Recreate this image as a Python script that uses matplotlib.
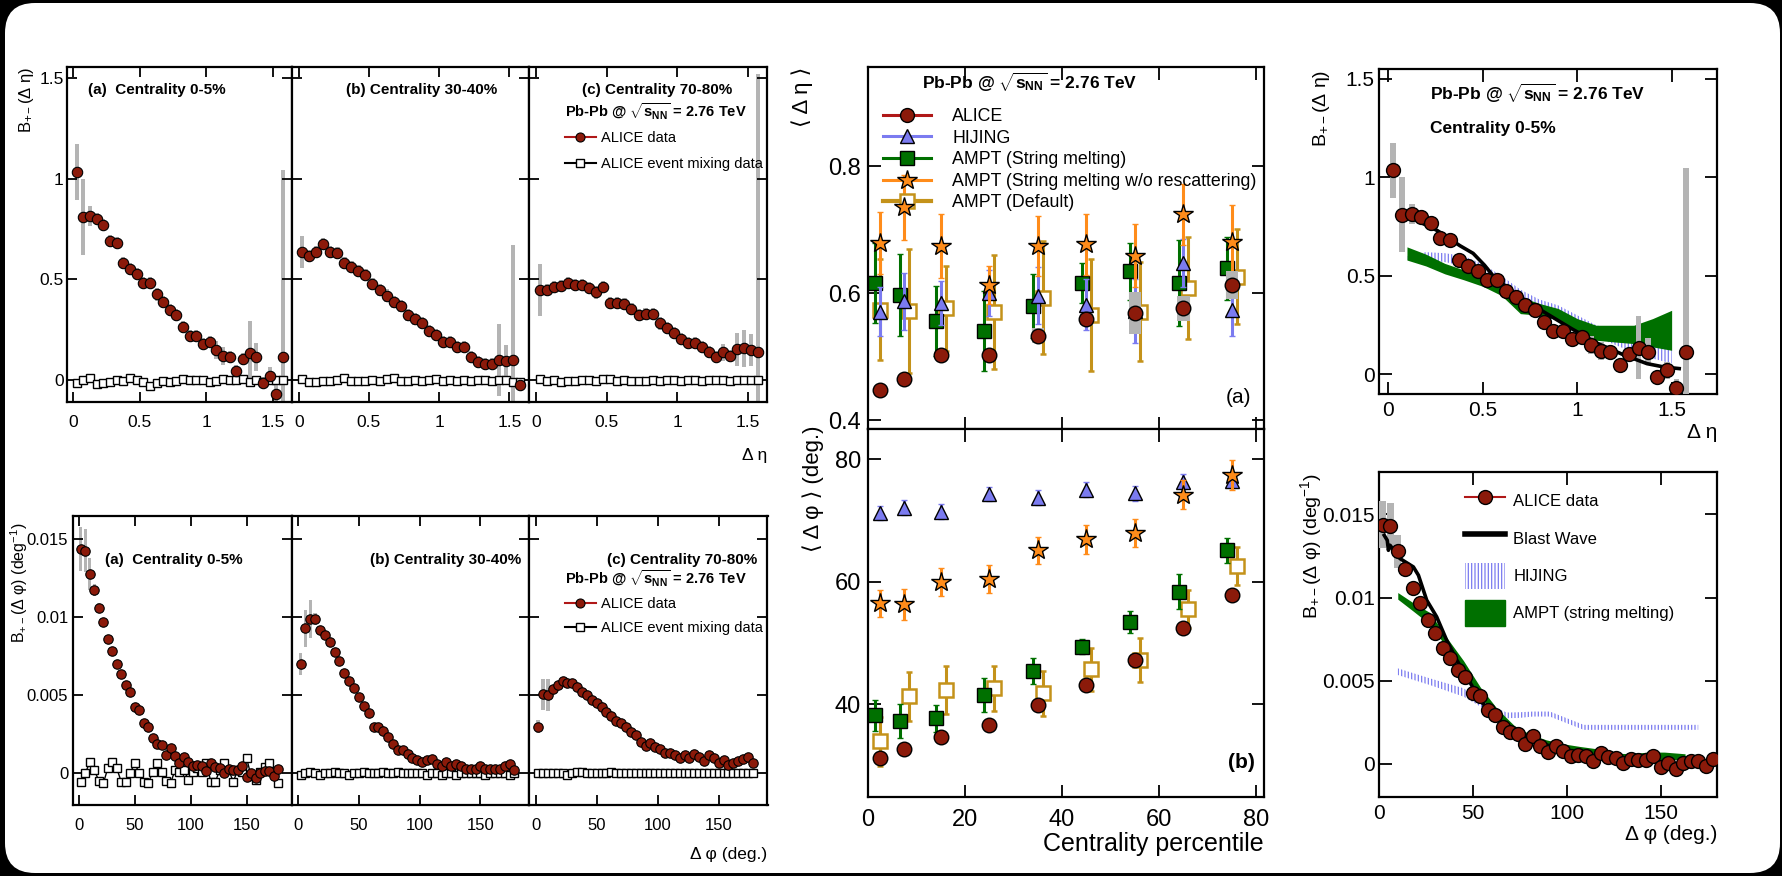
import numpy as np
import matplotlib
matplotlib.use('Agg')
import matplotlib.pyplot as plt
from matplotlib.patches import FancyBboxPatch, Patch
from matplotlib.lines import Line2D
from matplotlib.transforms import IdentityTransform

plt.rcParams['font.family'] = ['Liberation Sans', 'DejaVu Sans']
plt.rcParams['mathtext.fontset'] = 'custom'
plt.rcParams['mathtext.rm'] = 'Liberation Sans'
plt.rcParams['mathtext.it'] = 'Liberation Sans:italic'
plt.rcParams['mathtext.bf'] = 'Liberation Sans:bold'
plt.rcParams['hatch.linewidth'] = 0.9

# ---- balance function vs delta eta (bin centres) ----
deta = [0.025, 0.075, 0.125, 0.175, 0.225, 0.275, 0.325, 0.375, 0.425, 0.475, 0.525, 0.575,
        0.625, 0.675, 0.725, 0.775, 0.825, 0.875, 0.925, 0.975, 1.025, 1.075, 1.125, 1.175,
        1.225, 1.275, 1.325, 1.375, 1.425, 1.475, 1.525, 1.575]
b_eta_0_5 = [1.035, 0.81, 0.815, 0.80, 0.77, 0.69, 0.68, 0.58, 0.55, 0.525, 0.48, 0.48,
             0.425, 0.39, 0.35, 0.325, 0.265, 0.22, 0.22, 0.18, 0.19, 0.15, 0.12, 0.115,
             0.045, 0.105, 0.135, 0.115, -0.015, 0.02, -0.07, 0.115]
sys_eta_0_5 = [0.14, 0.19, 0.05, 0.03, 0.03, 0.03, 0.03, 0.03, 0.03, 0.03, 0.03, 0.03,
               0.03, 0.03, 0.03, 0.03, 0.03, 0.03, 0.03, 0.03, 0.03, 0.045, 0.045, 0.03,
               0.03, 0.03, 0.16, 0.07, 0.03, 0.045, 0.045, 0.93]
mix_eta_0_5 = [-0.013, 0.0, 0.008, -0.02, -0.017, -0.008, 0.0, -0.005, 0.008, 0.0, -0.008, -0.03,
               -0.013, -0.005, -0.008, -0.005, 0.003, 0.0, 0.0, 0.0, -0.008, -0.005, 0.003, 0.0,
               0.0, 0.003, -0.008, 0.0, -0.008, 0.0, 0.0, 0.0]
b_eta_30_40 = [0.637, 0.615, 0.637, 0.675, 0.634, 0.63, 0.58, 0.563, 0.543, 0.52, 0.477, 0.447,
               0.42, 0.39, 0.368, 0.323, 0.303, 0.285, 0.243, 0.224, 0.19, 0.19, 0.166, 0.166,
               0.116, 0.091, 0.08, 0.08, 0.10, 0.096, 0.10, -0.025]
sys_eta_30_40 = [0.08, 0.03, 0.03, 0.03, 0.03, 0.03, 0.03, 0.03, 0.03, 0.03, 0.03, 0.03,
                 0.03, 0.03, 0.03, 0.03, 0.03, 0.03, 0.03, 0.03, 0.03, 0.03, 0.03, 0.03,
                 0.03, 0.03, 0.03, 0.03, 0.18, 0.08, 0.57, 0.03]
mix_eta_30_40 = [0.005, -0.008, -0.008, -0.005, -0.005, 0.0, 0.008, -0.003, -0.005, -0.005, 0.0, -0.005,
                 0.005, 0.008, -0.005, -0.005, 0.0, -0.005, 0.0, 0.003, -0.005, 0.0, -0.005, 0.0,
                 -0.005, 0.0, 0.0, -0.005, 0.0, 0.0, -0.008, -0.01]
b_eta_70_80 = [0.447, 0.447, 0.46, 0.469, 0.48, 0.472, 0.472, 0.455, 0.435, 0.46, 0.384, 0.381,
               0.377, 0.351, 0.323, 0.326, 0.326, 0.281, 0.257, 0.235, 0.202, 0.185, 0.182, 0.166,
               0.141, 0.116, 0.137, 0.119, 0.152, 0.157, 0.149, 0.141]
sys_eta_70_80 = [0.13, 0.03, 0.03, 0.03, 0.03, 0.03, 0.03, 0.03, 0.03, 0.03, 0.03, 0.03,
                 0.03, 0.03, 0.03, 0.03, 0.03, 0.03, 0.03, 0.03, 0.03, 0.03, 0.03, 0.03,
                 0.03, 0.03, 0.04, 0.03, 0.08, 0.09, 0.08, 1.38]
mix_eta_70_80 = [0.003, -0.005, 0.0, -0.008, -0.005, -0.003, 0.0, 0.0, -0.005, 0.003, 0.005, -0.003,
                 0.0, -0.005, -0.005, -0.005, 0.0, -0.005, 0.0, 0.0, -0.003, 0.0, 0.0, -0.005,
                 0.0, 0.0, 0.0, -0.003, 0.0, 0.0, 0.0, 0.0]

# ---- balance function vs delta phi (deg) ----
dphi = [2, 6, 10, 14, 18, 22, 26, 30, 34, 38, 42, 46, 50, 54, 58, 62, 66, 70, 74, 78, 82, 86, 90,
        94, 98, 102, 106, 110, 114, 118, 122, 126, 130, 134, 138, 142, 146, 150, 154, 158, 162,
        166, 170, 174, 178]
b_phi_0_5 = [0.01438, 0.01428, 0.01278, 0.01174, 0.0106, 0.00968, 0.00864, 0.00784, 0.00698,
             0.00634, 0.00564, 0.00524, 0.00424, 0.00408, 0.00324, 0.00294, 0.00224, 0.00188,
             0.0018, 0.0012, 0.00164, 0.00108, 0.00068, 0.00104, 0.00074, 0.00044, 0.00054,
             0.00048, 0.00018, 0.00064, 0.00038, 0.00034, 0.00004, 0.00028, 0.0002, 0.0002,
             0.00044, -0.00022, 0.00004, -0.00032, 0.00004, 0.00014, 0.00014, -0.00016, 0.0003]
sys_phi_0_5 = [0.0014, 0.0014, 0.001, 0.0004, 0.0003, 0.0003, 0.0002, 0.0002, 0.0002,
               0.0002, 0.0002, 0.0002, 0.0002, 0.0002, 0.0002, 0.0002, 0.0002, 0.0002,
               0.0002, 0.0002, 0.0002, 0.0002, 0.0002, 0.0002, 0.0002, 0.0002, 0.0002,
               0.0002, 0.0002, 0.0002, 0.0002, 0.0002, 0.0002, 0.0002, 0.0002, 0.0002,
               0.0002, 0.0002, 0.0002, 0.0002, 0.0002, 0.0002, 0.0002, 0.0002, 0.0002]
mix_phi_0_5 = [-0.00053, 0.0, 0.00075, 0.0002, -0.00047, -0.00064, 0.00032, 0.00075, 0.00032,
               -0.00053, -0.00053, 0.00004, 0.00064, 0.00004, -0.00053, -0.00064, 0.00006, 0.00068,
               0.0001, -0.00047, -0.00064, 0.0002, 0.0001, 0.0002, -0.00043, 0.0001, 0.00032,
               0.0001, 0.00064, -0.00053, -0.00053, 0.0002, 0.00068, 0.0002, -0.00053, 0.0002,
               0.0001, 0.00096, -0.0002, -0.00043, 0.0001, 0.00043, 0.00064, 0.0001, -0.00064]
b_phi_30_40 = [0.007, 0.0093, 0.0099, 0.0099, 0.0092, 0.0089, 0.0084, 0.0078, 0.0072, 0.00645,
               0.0059, 0.00545, 0.0049, 0.0043, 0.0039, 0.003, 0.003, 0.0027, 0.00235, 0.0019,
               0.0015, 0.0015, 0.00124, 0.00096, 0.00085, 0.00075, 0.00085, 0.0009, 0.0006,
               0.0005, 0.0007, 0.0005, 0.0006, 0.0005, 0.0003, 0.0003, 0.0003, 0.0005, 0.0003,
               0.0003, 0.0003, 0.0003, 0.0005, 0.0006, 0.0002]
sys_phi_30_40 = [0.0007, 0.0012, 0.0012, 0.0004, 0.0002, 0.0002, 0.0002, 0.0002, 0.0002, 0.0002,
                 0.0002, 0.0002, 0.0002, 0.0002, 0.0002, 0.0002, 0.0002, 0.0002, 0.0002, 0.0002,
                 0.0002, 0.0002, 0.0002, 0.0002, 0.0002, 0.0002, 0.0002, 0.0002, 0.0002,
                 0.0002, 0.0002, 0.0002, 0.0002, 0.0002, 0.0002, 0.0002, 0.0002, 0.0002, 0.0002,
                 0.0002, 0.0002, 0.0002, 0.0002, 0.0002, 0.0002]
mix_phi_30_40 = [-0.0001, 0.0, 0.0001, 0.0, -0.0001, 0.0, 0.0, 0.0001, 0.0, 0.0,
                 -0.0001, 0.0, 0.0, 0.0001, 0.0, 0.0, 0.0, 0.0001, 0.0, 0.0,
                 0.0001, 0.0, 0.0, 0.0, 0.0, 0.0, -0.0001, 0.0, 0.0, -0.0001,
                 0.0, 0.0, -0.0001, 0.0, 0.0, 0.0, 0.0, 0.0, -0.0001, 0.0,
                 0.0, 0.0, 0.0, -0.0001, 0.0]
b_phi_70_80 = [0.003, 0.00506, 0.00502, 0.00538, 0.00566, 0.00594, 0.00581, 0.00581, 0.00556,
               0.00519, 0.00502, 0.0047, 0.00449, 0.00427, 0.00395, 0.00368, 0.00335, 0.0032,
               0.00299, 0.00267, 0.00246, 0.00203, 0.00175, 0.00192, 0.00171, 0.00154, 0.00132,
               0.00132, 0.00118, 0.00096, 0.00118, 0.00096, 0.00124, 0.00107, 0.00081, 0.00118,
               0.00096, 0.00068, 0.00085, 0.00053, 0.00068, 0.00081, 0.00092, 0.00103, 0.00064]
sys_phi_70_80 = [0.0004, 0.001, 0.001, 0.0003, 0.0002, 0.0002, 0.0002, 0.0002, 0.0002,
                 0.0002, 0.0002, 0.0002, 0.0002, 0.0002, 0.0002, 0.0002, 0.0002, 0.0002,
                 0.0002, 0.0002, 0.0002, 0.0002, 0.0002, 0.0002, 0.0002, 0.0002, 0.0002,
                 0.0002, 0.0002, 0.0002, 0.0002, 0.0002, 0.0002, 0.0002, 0.0002, 0.0002,
                 0.0002, 0.0002, 0.0002, 0.0002, 0.0002, 0.0002, 0.0002, 0.0002, 0.0002]
mix_phi_70_80 = [0.0, 0.0, 0.0, 0.0, 0.0, 0.0, -0.0001, 0.0, 0.0001, 0.0001,
                 0.0, 0.0, 0.0, 0.0, 0.0, 0.0001, 0.0, 0.0, 0.0, 0.0,
                 0.0, 0.0, 0.0, 0.0, 0.0, 0.0, 0.0, 0.0, 0.0, 0.0,
                 0.0, 0.0, 0.0, 0.0, 0.0, 0.0, 0.0, 0.0, 0.0, 0.0,
                 0.0, 0.0, 0.0, 0.0, 0.0]

# ---- mean widths vs centrality ----
cent = [2.5, 7.5, 15, 25, 35, 45, 55, 65, 75]
cent_sm = [1.5, 6.5, 14, 24, 34, 44, 54, 64, 74]
cent_def = [2.5, 8.5, 16, 26, 36, 46, 56, 66, 76]
eta_alice = [0.447, 0.465, 0.502, 0.503, 0.533, 0.559, 0.569, 0.576, 0.612]
eta_alice_sys = [0.005, 0.005, 0.006, 0.006, 0.012, 0.01, 0.033, 0.02, 0.022]
eta_hijing = [0.571, 0.587, 0.584, 0.600, 0.596, 0.582, 0.572, 0.647, 0.574]
eta_hijing_err = [0.038, 0.045, 0.035, 0.036, 0.045, 0.04, 0.05, 0.038, 0.041]
eta_sm = [0.616, 0.597, 0.556, 0.541, 0.580, 0.616, 0.634, 0.616, 0.639]
eta_sm_err = [0.063, 0.065, 0.055, 0.063, 0.05, 0.032, 0.045, 0.068, 0.05]
eta_norsc = [0.679, 0.735, 0.674, 0.613, 0.674, 0.677, 0.659, 0.724, 0.680]
eta_norsc_err = [0.049, 0.051, 0.05, 0.03, 0.047, 0.048, 0.05, 0.048, 0.058]
eta_def = [0.574, 0.572, 0.576, 0.570, 0.593, 0.566, 0.571, 0.608, 0.626]
eta_def_err = [0.08, 0.098, 0.067, 0.09, 0.089, 0.088, 0.078, 0.08, 0.075]

phi_alice = [31.2, 32.8, 34.7, 36.7, 39.9, 43.2, 47.3, 52.5, 57.8]
phi_alice_sys = [0.4, 0.4, 0.4, 0.4, 0.4, 0.4, 0.5, 0.5, 0.5]
phi_hijing = [71.2, 72.1, 71.4, 74.3, 73.7, 75.0, 74.4, 76.3, 76.5]
phi_hijing_err = [1.2, 1.2, 1.2, 1.2, 1.2, 1.2, 1.2, 1.2, 1.2]
phi_sm = [38.2, 37.3, 37.7, 41.5, 45.4, 49.4, 53.5, 58.4, 65.1]
phi_sm_err = [2.5, 2.7, 2.2, 2.8, 2.1, 1.2, 1.8, 2.9, 2.0]
phi_norsc = [56.5, 56.3, 60.0, 60.4, 65.1, 66.9, 67.9, 74.2, 77.4]
phi_norsc_err = [2.2, 2.5, 2.3, 2.3, 2.2, 2.3, 2.3, 2.4, 2.5]
phi_def = [34.0, 41.3, 42.3, 42.6, 41.8, 45.7, 47.2, 55.6, 62.6]
phi_def_err = [4.0, 4.0, 3.9, 3.7, 3.7, 3.5, 3.6, 3.1, 3.1]

# ---- model comparison, 0-5% ----
band_eta_x = [0.1, 0.2, 0.3, 0.4, 0.5, 0.6, 0.7, 0.8, 0.9, 1.0, 1.1, 1.2, 1.3, 1.4, 1.5]
ampt_eta_hi = [0.647, 0.61, 0.563, 0.53, 0.495, 0.46, 0.393, 0.36, 0.334, 0.283, 0.249, 0.249, 0.249, 0.283, 0.325]
ampt_eta_lo = [0.58, 0.55, 0.51, 0.48, 0.447, 0.40, 0.308, 0.30, 0.275, 0.207, 0.173, 0.164, 0.156, 0.139, 0.122]
hij_eta_hi = [0.60, 0.62, 0.615, 0.60, 0.56, 0.50, 0.43, 0.38, 0.35, 0.30, 0.25, 0.22, 0.19, 0.16, 0.14]
hij_eta_lo = [0.58, 0.58, 0.57, 0.55, 0.50, 0.44, 0.37, 0.33, 0.29, 0.24, 0.19, 0.15, 0.11, 0.08, 0.055]
bw_eta_x = [0.11, 0.26, 0.38, 0.45, 0.51, 0.56, 0.67, 0.81, 0.97, 1.11, 1.25, 1.37, 1.46, 1.54]
bw_eta_y = [0.80, 0.73, 0.653, 0.614, 0.554, 0.495, 0.41, 0.325, 0.232, 0.156, 0.097, 0.054, 0.037, 0.029]

ampt_phi_x = [10, 18, 27, 36, 45, 54, 63, 72, 80, 89, 98, 107, 116, 125, 134, 143, 152, 163]
ampt_phi_hi = [0.0103, 0.0097, 0.0091, 0.0076, 0.0062, 0.0046, 0.0033, 0.0023, 0.0018, 0.00144,
               0.0012, 0.00104, 0.0009, 0.00064, 0.0006, 0.0007, 0.0007, 0.0006]
ampt_phi_lo = [0.0099, 0.0092, 0.0084, 0.007, 0.0056, 0.004, 0.0028, 0.0018, 0.0014, 0.00094,
               0.0007, 0.00054, 0.0004, 0.00024, 0.0002, 0.0002, 0.0002, 0.0003]
hij_phi_x = [10, 27, 45, 57, 68, 75, 82, 91, 100, 109, 125, 150, 170]
hij_phi_hi = [0.00574, 0.00514, 0.00454, 0.00364, 0.00308, 0.0031, 0.00314, 0.00314, 0.00274,
              0.00234, 0.00234, 0.00234, 0.00234]
hij_phi_lo = [0.00534, 0.00474, 0.00404, 0.00324, 0.00274, 0.00276, 0.00284, 0.00284, 0.00244,
              0.00204, 0.00204, 0.00204, 0.00204]
bw_phi_x = [2.8, 4.4, 5.0, 5.9, 11.2, 18.3, 21, 25.4, 30.7, 36, 41.4, 46.7, 53.8, 61, 71.6, 89, 107]
bw_phi_y = [0.01374, 0.01344, 0.01284, 0.01314, 0.01234, 0.01184, 0.01134, 0.00984, 0.00884,
            0.00744, 0.00624, 0.00524, 0.00384, 0.00284, 0.00204, 0.00114, 0.00054]

RED = '#8b1a0a'
GRAY = '#b4b4b4'
BLUE = '#7b7bf0'
GREEN = '#007000'
ORANGE = '#ff8c1a'
GOLD = '#c4921a'
SQRT = r'Pb-Pb @ $\mathbf{\sqrt{s_{NN}}}$ = 2.76 TeV'

W, H = 1782, 876
fig = plt.figure(figsize=(W / 100, H / 100), dpi=100)
fig.patch.set_facecolor('black')
card = FancyBboxPatch((5, 3), 1775, 870, boxstyle='round,pad=0,rounding_size=30',
                      transform=IdentityTransform(), fc='white', ec='none', zorder=-5)
fig.add_artist(card)


def px_axes(x0, y0, x1, y1):
    return fig.add_axes([x0 / W, 1 - y1 / H, (x1 - x0) / W, (y1 - y0) / H])


def px_text(x, y, s, **kw):
    return fig.text(x / W, 1 - y / H, s, **kw)


def frame(ax, fs, padx, pady, length=7):
    for s in ax.spines.values():
        s.set_linewidth(1.6)
    ax.tick_params(direction='in', top=True, right=True, length=length, width=1.3, labelsize=fs)
    ax.tick_params(axis='x', pad=padx)
    ax.tick_params(axis='y', pad=pady)


def alice_handle(ms):
    return Line2D([], [], color='#b01818', lw=1.5, marker='o', ms=ms, mfc=RED, mec='black', mew=0.8)


mix_handle = Line2D([], [], color='black', lw=1.5, marker='s', ms=5.5, mfc='white', mec='black', mew=1)

# ---------------- left column: B(delta eta) ----------------
eta_sets = [
    (b_eta_0_5, sys_eta_0_5, mix_eta_0_5, '(a)  Centrality 0-5%', 88),
    (b_eta_30_40, sys_eta_30_40, mix_eta_30_40, '(b) Centrality 30-40%', 346),
    (b_eta_70_80, sys_eta_70_80, mix_eta_70_80, '(c) Centrality 70-80%', 582),
]
edges = [66.5, 291.5, 529, 767.5]
for i, (vals, su, mix, title, tx) in enumerate(eta_sets):
    ax = px_axes(edges[i], 67, edges[i + 1], 402)
    vals = np.array(vals)
    su = np.array(su)
    ax.bar(deta, 2 * su, bottom=vals - su, width=0.03, color=GRAY, zorder=1)
    ax.plot(deta, mix, '-s', color='black', lw=1, ms=5.5, mfc='white', mec='black', mew=1, zorder=2)
    ax.plot(deta, vals, 'o', ms=7.5, mfc=RED, mec='black', mew=0.8, zorder=3)
    ax.set_xlim(-0.052, 1.64)
    ax.set_ylim(-0.109, 1.555)
    ax.set_xticks([0, 0.5, 1, 1.5])
    ax.set_xticklabels(['0', '0.5', '1', '1.5'])
    ax.set_yticks([0, 0.5, 1, 1.5])
    ax.set_yticklabels(['0', '0.5', '1', '1.5'] if i == 0 else [])
    frame(ax, 12.5, 9, 2)
    px_text(tx, 90, title, fontsize=11, fontweight='bold', va='center')
    if i == 2:
        px_text(565, 112, SQRT, fontsize=10.5, fontweight='bold', va='center')
        ax.legend([alice_handle(6.5), mix_handle], ['ALICE data', 'ALICE event mixing data'],
                  loc='upper left', bbox_to_anchor=(565 / W, 1 - 131 / H),
                  bbox_transform=fig.transFigure, frameon=False, fontsize=10.5,
                  handlelength=2.1, handletextpad=0.4, labelspacing=0.85,
                  borderpad=0, borderaxespad=0)
px_text(26, 67, r'B$_{+-}$(Δ η)', fontsize=12, rotation=90, ha='center', va='top')
px_text(767, 455, 'Δ η', fontsize=12.5, ha='right', va='center')

# ---------------- left column: B(delta phi) ----------------
phi_sets = [
    (b_phi_0_5, sys_phi_0_5, mix_phi_0_5, '(a)  Centrality 0-5%', 105),
    (b_phi_30_40, sys_phi_30_40, mix_phi_30_40, '(b) Centrality 30-40%', 370),
    (b_phi_70_80, sys_phi_70_80, mix_phi_70_80, '(c) Centrality 70-80%', 607),
]
edges = [72.5, 291.5, 529, 767.5]
for i, (vals, su, mix, title, tx) in enumerate(phi_sets):
    ax = px_axes(edges[i], 516, edges[i + 1], 805)
    vals = np.array(vals)
    su = np.array(su)
    ax.bar(dphi, 2 * su, bottom=vals - su, width=2.8, color=GRAY, zorder=1)
    ax.plot(dphi, mix, '-s', color='black', lw=1, ms=5.5, mfc='white', mec='black', mew=1, zorder=2)
    ax.plot(dphi, vals, 'o', ms=6.8, mfc=RED, mec='black', mew=0.8, zorder=3)
    ax.set_xlim(-5.5, 190)
    ax.set_ylim(-0.00203, 0.0165)
    ax.set_xticks([0, 50, 100, 150])
    ax.set_yticks([0, 0.005, 0.01, 0.015])
    ax.set_yticklabels(['0', '0.005', '0.01', '0.015'] if i == 0 else [])
    frame(ax, 12, 9, 3)
    px_text(tx, 560, title, fontsize=11, fontweight='bold', va='center')
    if i == 2:
        px_text(565, 579, SQRT, fontsize=10.5, fontweight='bold', va='center')
        ax.legend([alice_handle(6.5), mix_handle], ['ALICE data', 'ALICE event mixing data'],
                  loc='upper left', bbox_to_anchor=(565 / W, 1 - 597 / H),
                  bbox_transform=fig.transFigure, frameon=False, fontsize=10.5,
                  handlelength=2.1, handletextpad=0.4, labelspacing=0.7,
                  borderpad=0, borderaxespad=0)
px_text(19, 523, r'B$_{+-}$(Δ φ) (deg$^{-1}$)', fontsize=11.5, rotation=90, ha='center', va='top')
px_text(767, 855, 'Δ φ (deg.)', fontsize=12.5, ha='right', va='center')

# ---------------- middle column: mean widths ----------------
ax_e = px_axes(868, 67, 1264, 429)
ax_p = px_axes(868, 429, 1264, 797)
eb = dict(elinewidth=2.2, capsize=2, capthick=2, ls='none', mec='black', mew=1)
for ax, al, als, hij, hije, sm, sme, nr, nre, de, dee in [
        (ax_e, eta_alice, eta_alice_sys, eta_hijing, eta_hijing_err, eta_sm, eta_sm_err,
         eta_norsc, eta_norsc_err, eta_def, eta_def_err),
        (ax_p, phi_alice, phi_alice_sys, phi_hijing, phi_hijing_err, phi_sm, phi_sm_err,
         phi_norsc, phi_norsc_err, phi_def, phi_def_err)]:
    ax.errorbar(cent_def, de, yerr=dee, fmt='s', ms=10, mfc='white', color=GOLD, ecolor=GOLD,
                zorder=2, elinewidth=2.2, capsize=2, capthick=2, mec=GOLD, mew=1.8)
    ax.errorbar(cent_sm, sm, yerr=sme, fmt='s', ms=10, mfc=GREEN, ecolor=GREEN, zorder=3, **eb)
    ax.errorbar(cent, hij, yerr=hije, fmt='^', ms=10, mfc=BLUE, ecolor=BLUE, zorder=4, **eb)
    ax.errorbar(cent, nr, yerr=nre, fmt='*', ms=15, mfc=ORANGE, ecolor=ORANGE, zorder=5, **eb)
    al = np.array(al)
    als = np.array(als)
    ax.bar(cent, 2 * als, bottom=al - als, width=2.6, color=GRAY, zorder=6)
    ax.plot(cent, al, 'o', ms=10.5, mfc=RED, mec='black', mew=1, zorder=7)
    ax.set_xlim(0, 81.6)
    ax.set_xticks([0, 20, 40, 60, 80])
    frame(ax, 17, 9, 5, length=9)
ax_e.set_ylim(0.386, 0.956)
ax_e.set_yticks([0.4, 0.6, 0.8])
ax_e.set_yticklabels(['0.4', '0.6', '0.8'])
ax_e.set_xticklabels([])
ax_p.set_ylim(24.9, 84.9)
ax_p.set_yticks([40, 60, 80])
ax_p.set_xlabel('Centrality percentile', fontsize=18, loc='right', labelpad=0)
px_text(1251, 397, '(a)', fontsize=15, ha='right', va='center')
px_text(1255, 762, '(b)', fontsize=15, fontweight='bold', ha='right', va='center')
px_text(922, 82, SQRT, fontsize=12.5, fontweight='bold', va='center')
mid_handles = [
    Line2D([], [], color='#b01818', lw=2.2, marker='o', ms=10, mfc=RED, mec='black'),
    Line2D([], [], color=BLUE, lw=2.2, marker='^', ms=10, mfc=BLUE, mec='black'),
    Line2D([], [], color=GREEN, lw=2.2, marker='s', ms=10, mfc=GREEN, mec='black'),
    Line2D([], [], color=ORANGE, lw=2.2, marker='*', ms=15, mfc=ORANGE, mec='black'),
    Line2D([], [], color=GOLD, lw=3, marker='s', ms=10, mfc='white', mec=GOLD, mew=1.8),
]
ax_e.legend(mid_handles, ['ALICE', 'HIJING', 'AMPT (String melting)',
                          'AMPT (String melting w/o rescattering)', 'AMPT (Default)'],
            loc='upper left', bbox_to_anchor=(883 / W, 1 - 108 / H), bbox_transform=fig.transFigure,
            frameon=False, fontsize=12.8, handlelength=2.7, handletextpad=1.2, labelspacing=0.26,
            borderpad=0, borderaxespad=0)
px_text(802, 67, '⟨ Δ η ⟩', fontsize=16, rotation=90, ha='center', va='top')
px_text(813, 425, '⟨ Δ φ ⟩ (deg.)', fontsize=16, rotation=90, ha='center', va='top')

# ---------------- right column: model comparison ----------------
ax = px_axes(1379, 69, 1717, 394)
ax.fill_between(band_eta_x, hij_eta_lo, hij_eta_hi, facecolor='none', edgecolor=BLUE,
                hatch='|||||', linewidth=0, zorder=1)
ax.fill_between(band_eta_x, ampt_eta_lo, ampt_eta_hi, color=GREEN, linewidth=0, zorder=2)
v = np.array(b_eta_0_5)
s = np.array(sys_eta_0_5)
ax.bar(deta, 2 * s, bottom=v - s, width=0.03, color=GRAY, zorder=3)
ax.plot(bw_eta_x, bw_eta_y, color='black', lw=2.6, zorder=4)
ax.plot(deta, v, 'o', ms=10, mfc=RED, mec='black', mew=1, zorder=5)
ax.set_xlim(-0.048, 1.74)
ax.set_ylim(-0.10, 1.55)
ax.set_xticks([0, 0.5, 1, 1.5])
ax.set_xticklabels(['0', '0.5', '1', '1.5'])
ax.set_yticks([0, 0.5, 1, 1.5])
ax.set_yticklabels(['0', '0.5', '1', '1.5'])
frame(ax, 15, 5, 3, length=9)
px_text(1430, 93, SQRT, fontsize=12.5, fontweight='bold', va='center')
px_text(1430, 128, 'Centrality 0-5%', fontsize=12.5, fontweight='bold', va='center')
px_text(1322, 70, r'B$_{+-}$(Δ η)', fontsize=14, rotation=90, ha='center', va='top')
px_text(1717, 432, 'Δ η', fontsize=15, ha='right', va='center')

ax = px_axes(1379, 472, 1717, 797)
ax.fill_between(hij_phi_x, hij_phi_lo, hij_phi_hi, facecolor='none', edgecolor=BLUE,
                hatch='|||||', linewidth=0, zorder=1)
ax.fill_between(ampt_phi_x, ampt_phi_lo, ampt_phi_hi, color=GREEN, linewidth=0, zorder=2)
v = np.array(b_phi_0_5)
s = np.array(sys_phi_0_5)
ax.bar(dphi, 2 * s, bottom=v - s, width=3.6, color=GRAY, zorder=3)
ax.plot(bw_phi_x, bw_phi_y, color='black', lw=2.6, zorder=4)
ax.plot(dphi, v, 'o', ms=10, mfc=RED, mec='black', mew=1, zorder=5)
ax.set_xlim(0, 180)
ax.set_ylim(-0.002, 0.01755)
ax.set_xticks([0, 50, 100, 150])
ax.set_yticks([0, 0.005, 0.01, 0.015])
ax.set_yticklabels(['0', '0.005', '0.01', '0.015'])
frame(ax, 15, 5, 3, length=9)
right_handles = [
    Line2D([], [], color='#b01818', lw=1.5, marker='o', ms=10, mfc=RED, mec='black'),
    Line2D([], [], color='black', lw=4),
    Patch(facecolor='white', edgecolor=BLUE, hatch='|||||', lw=0),
    Patch(facecolor=GREEN, edgecolor=GREEN),
]
ax.legend(right_handles, ['ALICE data', 'Blast Wave', 'HIJING', 'AMPT (string melting)'],
          loc='upper left', bbox_to_anchor=(1465 / W, 1 - 488 / H), bbox_transform=fig.transFigure,
          frameon=False, fontsize=12, handlelength=2.4, handleheight=2.0, handletextpad=0.5,
          labelspacing=0.7, borderpad=0, borderaxespad=0)
px_text(1311, 473, r'B$_{+-}$(Δ φ) (deg$^{-1}$)', fontsize=14, rotation=90, ha='center', va='top')
px_text(1717, 835, 'Δ φ (deg.)', fontsize=15, ha='right', va='center')

fig.savefig('out.png', dpi=100, facecolor='black')
